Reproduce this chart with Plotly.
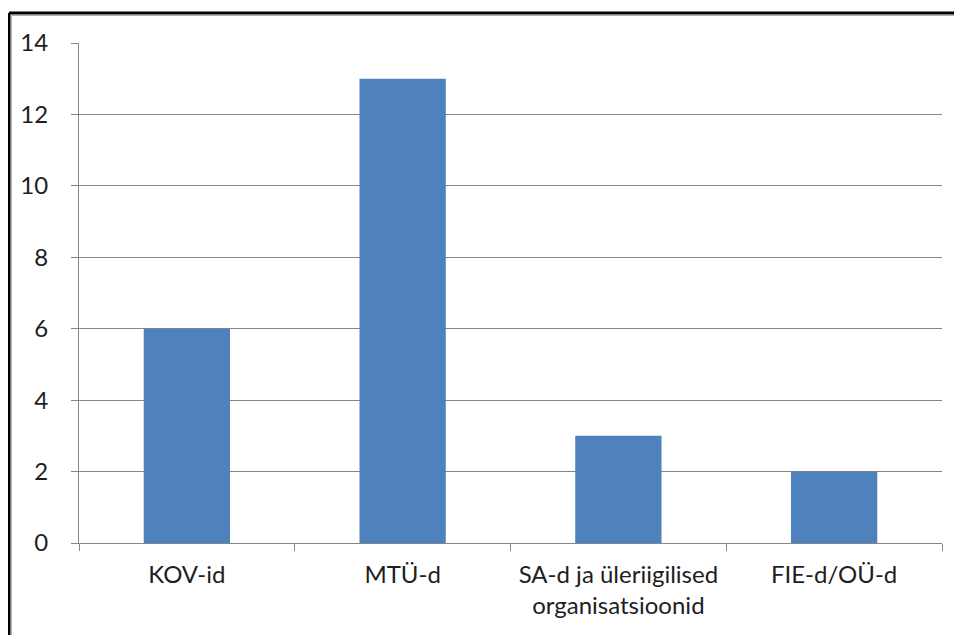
import plotly.graph_objects as go

categories = ["KOV-id", "MTÜ-d", "SA-d ja üleriigilised<br>organisatsioonid", "FIE-d/OÜ-d"]
values = [6, 13, 3, 2]
y_ticks = [0, 2, 4, 6, 8, 10, 12, 14]

OFF = 8  # default page body margin
SW, SH = 962, 635
W, H = SW - OFF, SH - OFF
# plot area in screen pixels
PX0, PX1, PY0, PY1 = 79, 942, 43, 543
L, R, T, B = PX0 - OFF, SW - PX1, PY0 - OFF, SH - PY1
pw, ph = PX1 - PX0, PY1 - PY0

def px_x(p):
    return (p - PX0) / pw

def px_y(p):
    return (PY1 - p) / ph

fig = go.Figure(go.Bar(x=categories, y=values, marker=dict(color="#4F81BD", line=dict(width=0))))

shapes = [
    dict(type="line", xref="paper", yref="paper", x0=px_x(9), x1=px_x(1000), y0=px_y(13), y1=px_y(13),
         line=dict(color="black", width=3)),
    dict(type="line", xref="paper", yref="paper", x0=px_x(9), y0=px_y(13), x1=px_x(9), y1=px_y(700),
         line=dict(color="black", width=3)),
    dict(type="line", xref="paper", yref="paper", x0=px_x(11.5), x1=px_x(1000), y0=px_y(15.5), y1=px_y(15.5),
         line=dict(color="#B0B0B0", width=1)),
    dict(type="line", xref="paper", yref="paper", x0=px_x(11.5), y0=px_y(15.5), x1=px_x(11.5), y1=px_y(700),
         line=dict(color="#B0B0B0", width=1)),
]

fig.update_layout(
    width=W, height=H,
    margin=dict(l=L, r=R, t=T, b=B, pad=0, autoexpand=False),
    paper_bgcolor="white", plot_bgcolor="white",
    bargap=0.6,
    showlegend=False,
    font=dict(family="Lato, 'Open Sans', sans-serif", size=24, color="#1e1e1e"),
    shapes=shapes,
    xaxis=dict(
        showgrid=False, showline=True, linecolor="#868686", linewidth=1,
        ticks="outside", tickson="boundaries", ticklen=7, tickcolor="#868686",
        tickfont=dict(size=24), ticklabelstandoff=10, tickangle=0, automargin=False,
    ),
    yaxis=dict(
        range=[0, 14], tickvals=y_ticks, showgrid=True, gridcolor="#868686", gridwidth=1,
        showline=True, linecolor="#868686", linewidth=1,
        ticks="outside", ticklen=7, tickcolor="#868686",
        tickfont=dict(size=24), zeroline=False, ticklabelstandoff=18, automargin=False,
    ),
)

fig.write_html("out.html")
